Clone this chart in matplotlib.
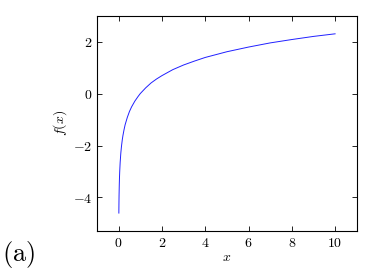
import numpy as np
import matplotlib
matplotlib.use("Agg")
import matplotlib.pyplot as plt

plt.rcParams['mathtext.fontset'] = 'cm'
plt.rcParams['font.family'] = 'serif'

# curve points
x_vals = [0.01, 0.015, 0.02, 0.03, 0.04, 0.05, 0.07, 0.1, 0.13, 0.17, 0.2, 0.25, 0.3,
          0.4, 0.5, 0.6, 0.75, 0.9, 1.0, 1.25, 1.5, 1.75, 2.0, 2.5, 3.0, 3.5, 4.0,
          5.0, 6.0, 7.0, 8.0, 9.0, 10.0]
y_vals = [-4.6, -4.2, -3.91, -3.51, -3.22, -3.0, -2.66, -2.3, -2.04, -1.77, -1.61,
          -1.39, -1.2, -0.92, -0.69, -0.51, -0.29, -0.11, 0.0, 0.22, 0.41, 0.56,
          0.69, 0.92, 1.1, 1.25, 1.39, 1.61, 1.79, 1.95, 2.08, 2.2, 2.3]

x_ticks = [0, 2, 4, 6, 8, 10]
y_ticks = [-4, -2, 0, 2]

fig = plt.figure(figsize=(3.71, 2.74), dpi=100)
ax = fig.add_axes([0.262, 0.157, 0.699, 0.785])

ax.plot(x_vals, y_vals, color='#2020ff', lw=0.7)

ax.set_xlim(-0.99, 10.99)
ax.set_ylim(-5.29, 2.99)
ax.set_xticks(x_ticks)
ax.set_xticklabels([r'$%d$' % t for t in x_ticks])
ax.set_yticks(y_ticks)
ax.set_yticklabels([r'$%d$' % t if t >= 0 else r'$-%d$' % -t for t in y_ticks])
ax.tick_params(direction='in', top=True, right=True, length=3.5, width=0.6,
               labelsize=10, pad=3.5)
for s in ax.spines.values():
    s.set_linewidth(0.8)

ax.set_xlabel(r'$x$', fontsize=10, labelpad=0)
ax.set_ylabel(r'$f(x)$', fontsize=10, labelpad=3)

fig.text(0.005, 0.015, r'$\mathrm{(a)}$', fontsize=19, ha='left', va='bottom')

fig.savefig('out.png', dpi=100)
